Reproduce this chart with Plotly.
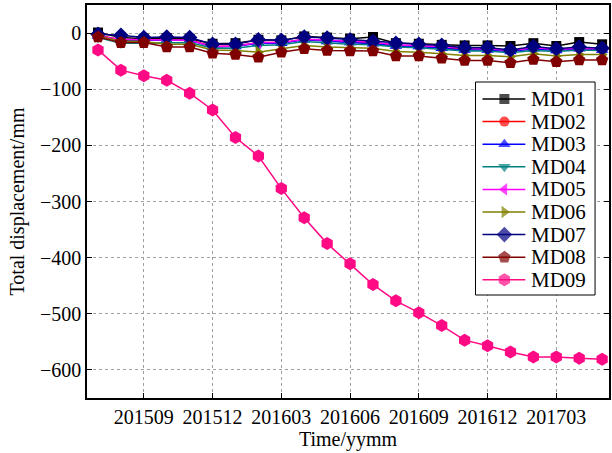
import plotly.graph_objects as go

# month index, 0 = 201507 ... 22 = 201705
months = list(range(23))
tick_idx = [2, 5, 8, 11, 14, 17, 20]
tick_labels = ["201509", "201512", "201603", "201606", "201609", "201612", "201703"]
y_ticks = [0, -100, -200, -300, -400, -500, -600]

names = ["MD01", "MD02", "MD03", "MD04", "MD05", "MD06", "MD07", "MD08", "MD09"]

md01 = [1, -8, -10, -9, -10, -19, -18, -12, -13, -6, -8, -10, -7, -18, -19, -21, -22, -22, -23, -18, -23, -16, -20]
md02 = [-4, -12, -12, -12, -12, -24, -23, -17, -17, -11, -14, -16, -18, -22, -23, -26, -29, -28, -32, -27, -30, -27, -29]
md03 = [-5, -13, -13, -13, -13, -25, -24, -18, -18, -12, -15, -17, -19, -23, -24, -27, -30, -30, -33, -28, -31, -28, -30]
md04 = [-8, -18, -18, -17, -17, -27, -27, -22, -21, -15, -18, -20, -21, -25, -26, -29, -32, -32, -35, -31, -33, -30, -31]
md05 = [-6, -11, -12, -13, -13, -24, -23, -17, -17, -11, -13, -15, -16, -21, -22, -24, -27, -28, -31, -26, -29, -27, -28]
md06 = [-6, -14, -15, -20, -20, -30, -31, -34, -28, -22, -25, -26, -27, -33, -34, -37, -40, -40, -42, -37, -41, -38, -38]
md07 = [-2, -4, -8, -7, -8, -20, -20, -12, -13, -7, -9, -12, -15, -18, -20, -22, -26, -26, -30, -24, -28, -25, -27]
md08 = [-7, -17, -17, -25, -25, -36, -38, -43, -34, -28, -31, -32, -32, -41, -41, -45, -49, -49, -53, -47, -51, -48, -48]
md09 = [-30, -66, -76, -84, -107, -137, -186, -219, -277, -329, -375, -411, -448, -477, -498, -521, -547, -557, -568, -577, -577, -579, -581]

series = [md01, md02, md03, md04, md05, md06, md07, md08, md09]
colors = ["#000000", "#FF0000", "#0000FF", "#008080", "#FF00FF", "#808000", "#000080", "#800000", "#FF0A85"]
symbols = ["square", "circle", "triangle-up", "triangle-down", "triangle-left",
           "triangle-right", "diamond", "pentagon", "hexagon"]
sizes = [10, 10, 11, 11, 11, 11, 12, 13, 13]

FONT = "Liberation Serif"

X_RANGE = [-0.48, 22.3]
Y_RANGE = [-650, 50]
PLOT_L, PLOT_R, PLOT_T, PLOT_B = 87, 611, 5, 398


def px_to_x(px):
    return X_RANGE[0] + (px - PLOT_L) / (PLOT_R - PLOT_L) * (X_RANGE[1] - X_RANGE[0])


def py_to_y(py):
    return Y_RANGE[1] - (py - PLOT_T) / (PLOT_B - PLOT_T) * (Y_RANGE[1] - Y_RANGE[0])


fig = go.Figure()
for nm, vals, c, s, sz in zip(names, series, colors, symbols, sizes):
    fig.add_trace(go.Scatter(
        x=months, y=vals, mode="lines+markers", name=nm,
        line=dict(color=c, width=1.5),
        marker=dict(symbol=s, size=sz, color=c, line=dict(width=0)),
        showlegend=False))

# custom legend box (between gridlines and traces)
leg_left, leg_right, leg_top, leg_bottom = 477, 597, 82, 295
fig.add_shape(type="rect", xref="x", yref="y",
              x0=px_to_x(leg_left), x1=px_to_x(leg_right),
              y0=py_to_y(leg_top), y1=py_to_y(leg_bottom),
              line=dict(color="black", width=1), fillcolor="white", layer="between")

row0, row_step = 99, 22.6
for i, (nm, c, s, sz) in enumerate(zip(names, colors, symbols, sizes)):
    yy = py_to_y(row0 + i * row_step)
    fig.add_trace(go.Scatter(
        x=[px_to_x(484), px_to_x(506), px_to_x(527)], y=[yy, yy, yy], mode="lines+markers",
        line=dict(color=c, width=1.5),
        marker=dict(symbol=s, size=[0, sz, 0], color=c, line=dict(width=0)),
        showlegend=False, hoverinfo="skip"))
    fig.add_annotation(x=px_to_x(531), y=yy, xref="x", yref="y", text=nm, showarrow=False,
                       xanchor="left", yanchor="middle",
                       font=dict(family=FONT, size=21, color="black"))

axis_common = dict(
    showline=True, linecolor="black", linewidth=1.5, mirror="ticks",
    ticks="inside", ticklen=5, tickcolor="black", tickwidth=1,
    showgrid=True, gridcolor="#A0A0A0", gridwidth=1, griddash="dot",
    zeroline=False, tickfont=dict(family=FONT, size=20, color="black"),
)

fig.update_layout(
    width=612, height=453,
    margin=dict(l=PLOT_L, r=612 - PLOT_R, t=PLOT_T, b=453 - PLOT_B),
    paper_bgcolor="white", plot_bgcolor="white",
    font=dict(family=FONT, color="black"),
    xaxis=dict(range=X_RANGE, tickvals=tick_idx, ticktext=tick_labels,
               title=dict(text="Time/yymm", font=dict(family=FONT, size=20), standoff=2),
               **axis_common),
    yaxis=dict(range=Y_RANGE, tickvals=y_ticks,
               title=dict(text="Total displacement/mm", font=dict(family=FONT, size=20), standoff=10),
               **axis_common),
    showlegend=False,
)

fig.write_html("out.html")
